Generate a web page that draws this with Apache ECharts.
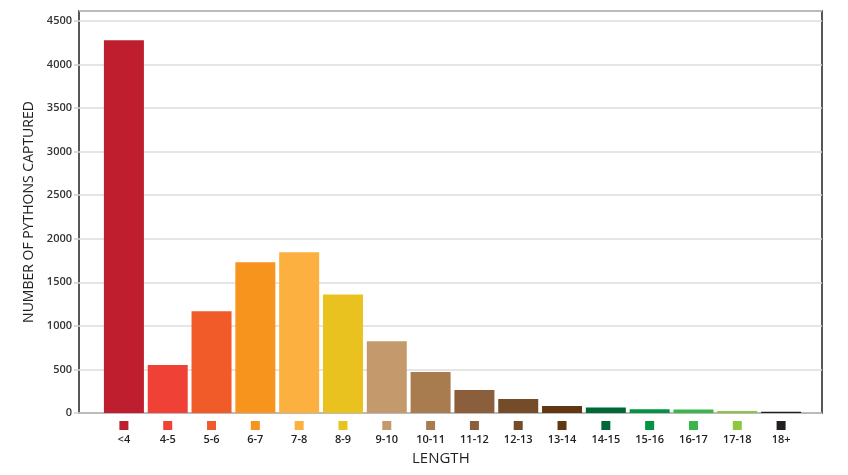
<!DOCTYPE html>
<html>
<head>
<meta charset="utf-8">
<script src="https://cdn.jsdelivr.net/npm/echarts@6/dist/echarts.min.js"></script>
<style>html,body{margin:0;padding:0;background:#fff;}#c{width:848px;height:475px;}</style>
</head>
<body>
<div id="c"></div>
<script>
const categories = ['<4','4-5','5-6','6-7','7-8','8-9','9-10','10-11','11-12','12-13','13-14','14-15','15-16','16-17','17-18','18+'];
const counts = [4280, 552, 1167, 1730, 1845, 1360, 825, 470, 265, 160, 80, 63, 42, 40, 22, 14];
const colors = ['#BE1E2D','#EF4136','#F15A29','#F7941D','#FBB040','#E9C21F','#C49A6C','#A97C50','#8B5E3C','#754C29','#603913','#006838','#009444','#39B54A','#8DC63F','#231F20'];
const yTicks = [0, 500, 1000, 1500, 2000, 2500, 3000, 3500, 4000, 4500];

const FONT = '"Open Sans", sans-serif';
const yMax = 4615;
const rich = { t: { fontSize: 11, fontWeight: 600, color: '#222', fontFamily: FONT, lineHeight: 17, padding: [2, 0, 0, 0] } };
colors.forEach((c, i) => { rich['s' + i] = { width: 9, height: 9, lineHeight: 9, backgroundColor: c }; });

const chart = echarts.init(document.getElementById('c'), null, { renderer: 'canvas' });
chart.setOption({
  animation: false,
  backgroundColor: '#fff',
  title: {
    text: 'LENGTH', left: 412, top: 451, padding: 0,
    textStyle: { fontSize: 15, fontWeight: 500, color: '#231F20', fontFamily: FONT }
  },
  grid: [
    { left: 79, right: 26, top: 11, bottom: 62, show: true, borderColor: '#231F20', borderWidth: 1.5, backgroundColor: 'transparent' },
    { left: 102, right: 45, top: 11, bottom: 62, show: false }
  ],
  xAxis: [
    { gridIndex: 0, type: 'category', data: [''], show: false },
    {
      gridIndex: 1, type: 'category', data: categories,
      axisLine: { show: false }, axisTick: { show: false },
      axisLabel: {
        margin: 8, interval: 0,
        formatter: (v, i) => '{s' + i + '| }\n{t|' + v + '}',
        rich: rich
      }
    }
  ],
  yAxis: [
    {
      gridIndex: 0, type: 'value', min: 0, max: yMax, interval: 500,
      name: 'NUMBER OF PYTHONS CAPTURED', nameLocation: 'middle', nameGap: 40,
      nameTextStyle: { fontSize: 14, fontWeight: 500, color: '#231F20', fontFamily: FONT },
      axisLine: { show: false },
      axisTick: { show: true, length: 5, lineStyle: { color: '#cfcfcf', width: 1.5 } },
      axisLabel: {
        margin: 7, showMaxLabel: false, fontSize: 11, fontWeight: 600, color: '#333', fontFamily: FONT,
        formatter: v => (yTicks.indexOf(v) >= 0 ? String(v) : '')
      },
      splitLine: { show: true, lineStyle: { color: '#dcdcdc', width: 1.5 } }
    },
    { gridIndex: 1, type: 'value', min: 0, max: yMax, show: false, splitLine: { show: false } }
  ],
  series: [{
    type: 'bar', xAxisIndex: 1, yAxisIndex: 1, barWidth: 40,
    data: counts.map((v, i) => ({ value: v, itemStyle: { color: colors[i] } }))
  }]
});
</script>
</body>
</html>
